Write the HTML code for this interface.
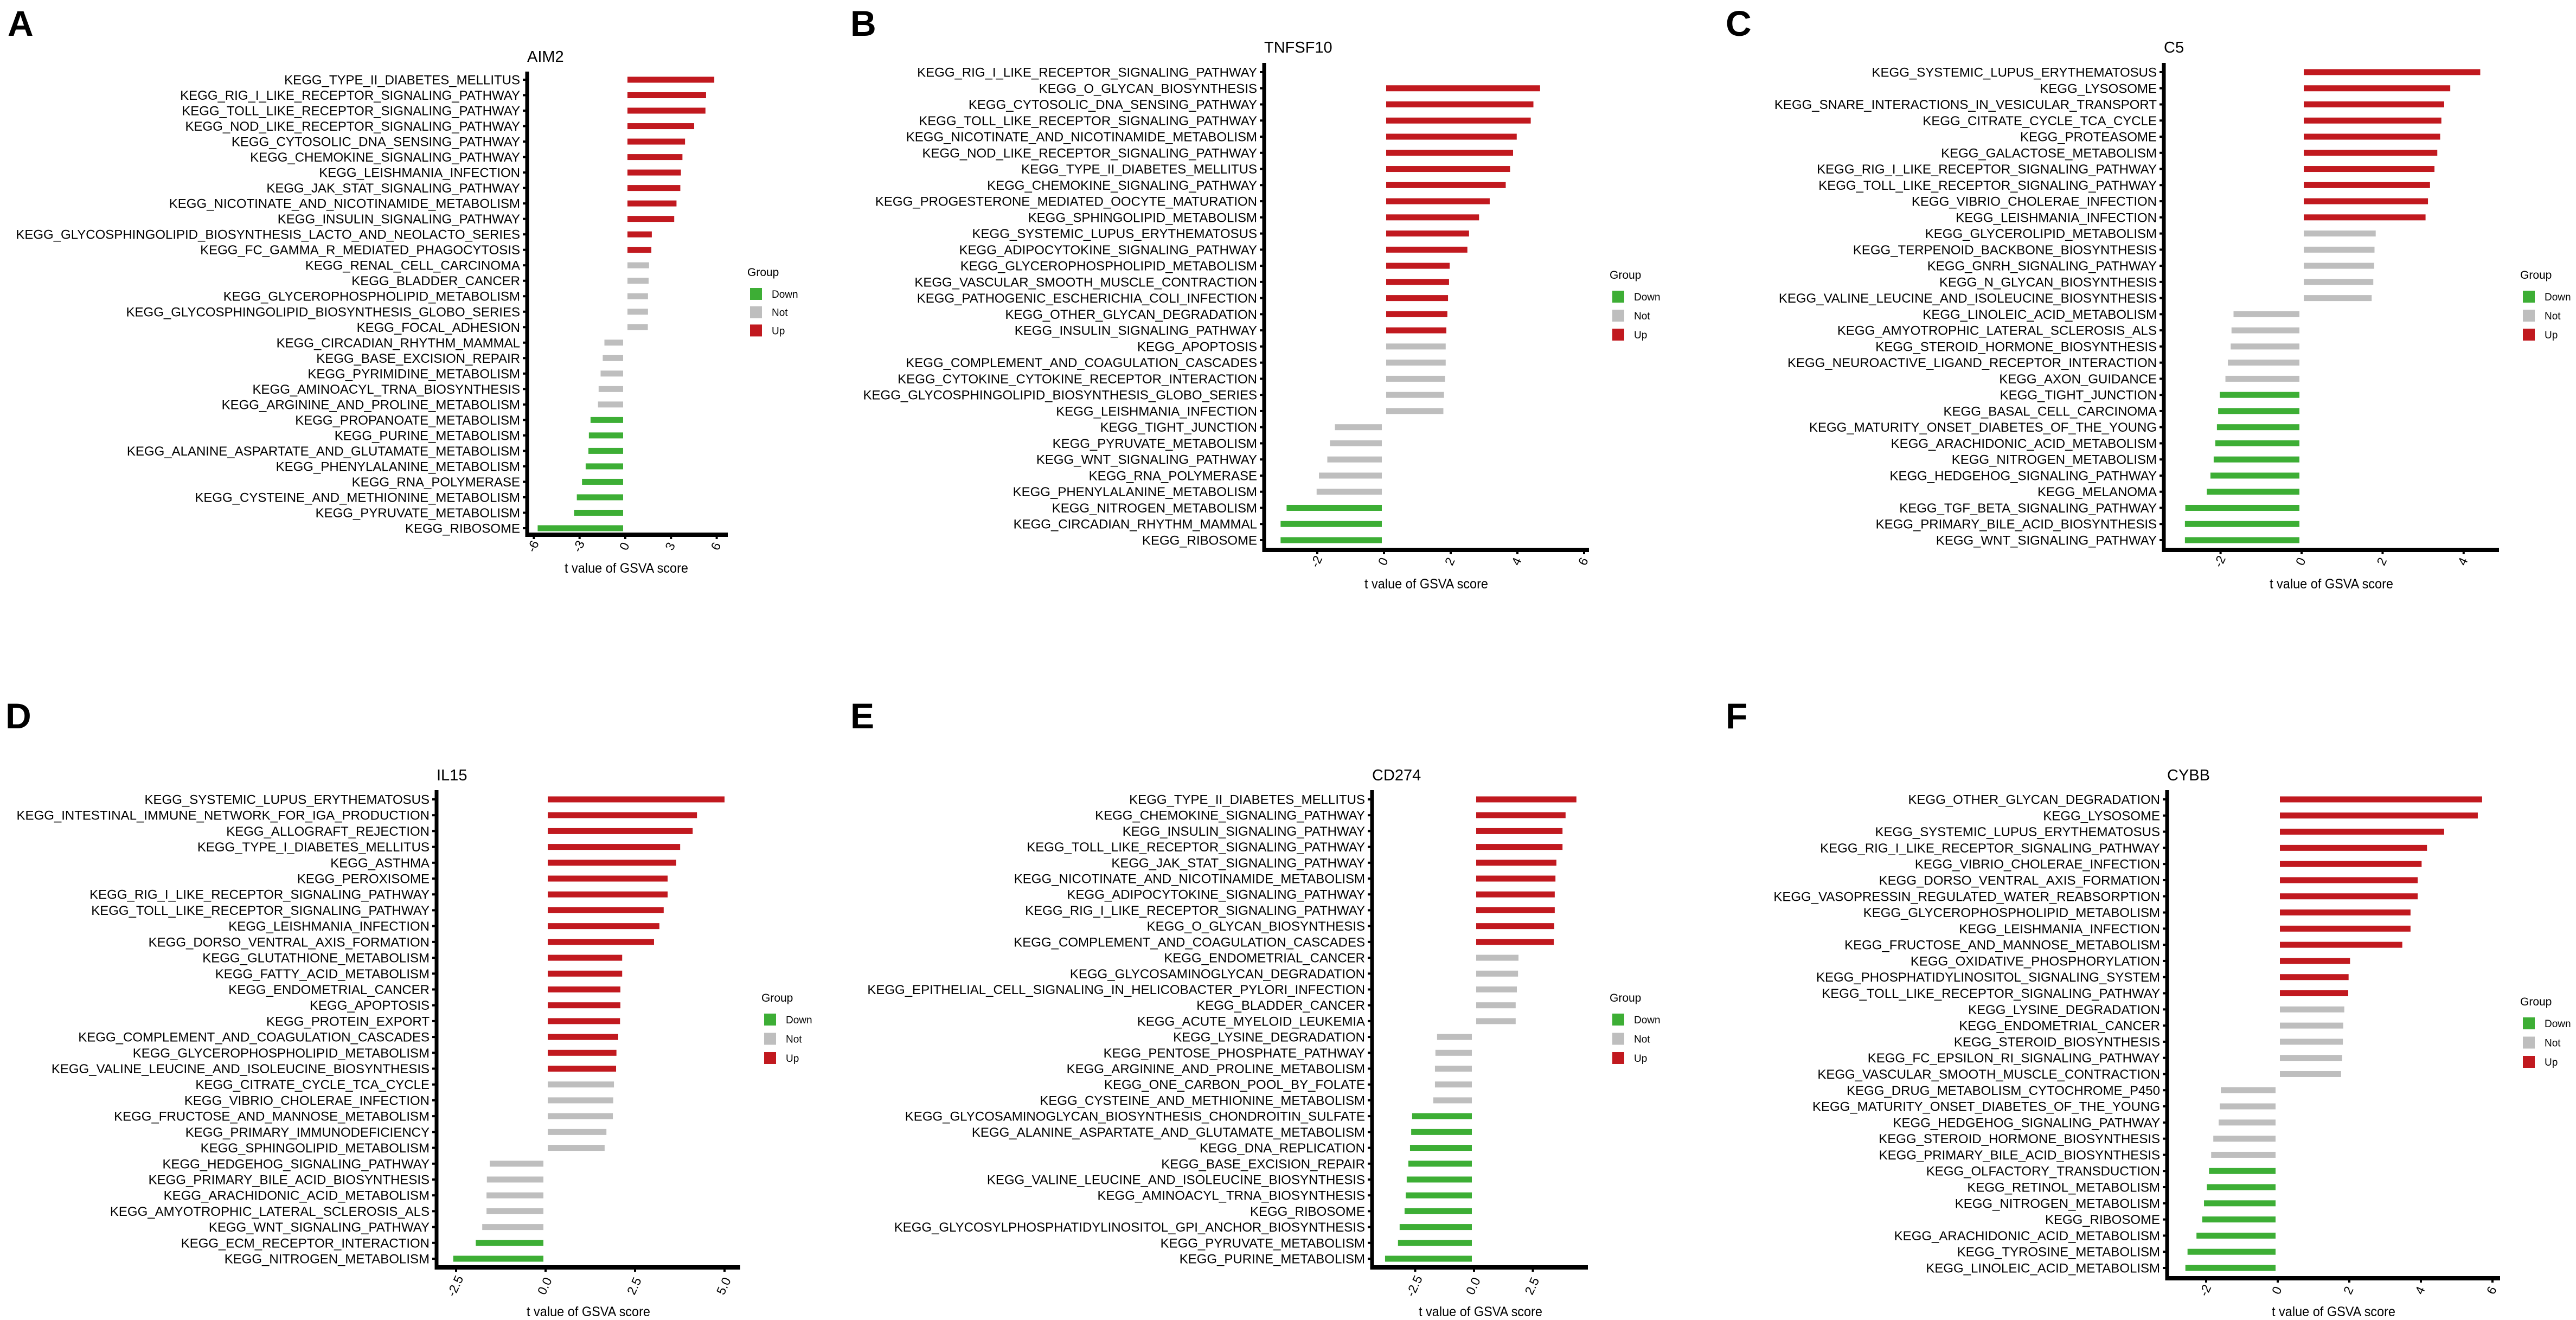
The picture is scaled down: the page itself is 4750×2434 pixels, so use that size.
<!DOCTYPE html>
<html><head><meta charset="utf-8"><style>
html,body{margin:0;padding:0;background:#fff;}
svg{display:block;font-family:"Liberation Sans",Arial,sans-serif;}
</style></head><body>
<svg id="fig" width="4750" height="2434" viewBox="0 0 4750 2434" xmlns="http://www.w3.org/2000/svg"></svg>
<script>
// ---------- Panel A (AIM2) ----------
const aLabels=["KEGG_TYPE_II_DIABETES_MELLITUS","KEGG_RIG_I_LIKE_RECEPTOR_SIGNALING_PATHWAY","KEGG_TOLL_LIKE_RECEPTOR_SIGNALING_PATHWAY","KEGG_NOD_LIKE_RECEPTOR_SIGNALING_PATHWAY","KEGG_CYTOSOLIC_DNA_SENSING_PATHWAY","KEGG_CHEMOKINE_SIGNALING_PATHWAY","KEGG_LEISHMANIA_INFECTION","KEGG_JAK_STAT_SIGNALING_PATHWAY","KEGG_NICOTINATE_AND_NICOTINAMIDE_METABOLISM","KEGG_INSULIN_SIGNALING_PATHWAY","KEGG_GLYCOSPHINGOLIPID_BIOSYNTHESIS_LACTO_AND_NEOLACTO_SERIES","KEGG_FC_GAMMA_R_MEDIATED_PHAGOCYTOSIS","KEGG_RENAL_CELL_CARCINOMA","KEGG_BLADDER_CANCER","KEGG_GLYCEROPHOSPHOLIPID_METABOLISM","KEGG_GLYCOSPHINGOLIPID_BIOSYNTHESIS_GLOBO_SERIES","KEGG_FOCAL_ADHESION","KEGG_CIRCADIAN_RHYTHM_MAMMAL","KEGG_BASE_EXCISION_REPAIR","KEGG_PYRIMIDINE_METABOLISM","KEGG_AMINOACYL_TRNA_BIOSYNTHESIS","KEGG_ARGININE_AND_PROLINE_METABOLISM","KEGG_PROPANOATE_METABOLISM","KEGG_PURINE_METABOLISM","KEGG_ALANINE_ASPARTATE_AND_GLUTAMATE_METABOLISM","KEGG_PHENYLALANINE_METABOLISM","KEGG_RNA_POLYMERASE","KEGG_CYSTEINE_AND_METHIONINE_METABOLISM","KEGG_PYRUVATE_METABOLISM","KEGG_RIBOSOME"];
const aValues=[5.84,5.30,5.26,4.52,3.92,3.75,3.65,3.61,3.36,3.21,1.74,1.71,1.56,1.53,1.49,1.49,1.48,-1.37,-1.48,-1.62,-1.75,-1.79,-2.28,-2.39,-2.42,-2.60,-2.84,-3.18,-3.36,-5.75];
const aGroups=["Up","Up","Up","Up","Up","Up","Up","Up","Up","Up","Up","Up","Not","Not","Not","Not","Not","Not","Not","Not","Not","Not","Down","Down","Down","Down","Down","Down","Down","Down"];
const aTicks=[-6,-3,0,3,6];
const aTickLabels=["-6","-3","0","3","6"];

// ---------- Panel B (TNFSF10) ----------
const bLabels=["KEGG_RIG_I_LIKE_RECEPTOR_SIGNALING_PATHWAY","KEGG_O_GLYCAN_BIOSYNTHESIS","KEGG_CYTOSOLIC_DNA_SENSING_PATHWAY","KEGG_TOLL_LIKE_RECEPTOR_SIGNALING_PATHWAY","KEGG_NICOTINATE_AND_NICOTINAMIDE_METABOLISM","KEGG_NOD_LIKE_RECEPTOR_SIGNALING_PATHWAY","KEGG_TYPE_II_DIABETES_MELLITUS","KEGG_CHEMOKINE_SIGNALING_PATHWAY","KEGG_PROGESTERONE_MEDIATED_OOCYTE_MATURATION","KEGG_SPHINGOLIPID_METABOLISM","KEGG_SYSTEMIC_LUPUS_ERYTHEMATOSUS","KEGG_ADIPOCYTOKINE_SIGNALING_PATHWAY","KEGG_GLYCEROPHOSPHOLIPID_METABOLISM","KEGG_VASCULAR_SMOOTH_MUSCLE_CONTRACTION","KEGG_PATHOGENIC_ESCHERICHIA_COLI_INFECTION","KEGG_OTHER_GLYCAN_DEGRADATION","KEGG_INSULIN_SIGNALING_PATHWAY","KEGG_APOPTOSIS","KEGG_COMPLEMENT_AND_COAGULATION_CASCADES","KEGG_CYTOKINE_CYTOKINE_RECEPTOR_INTERACTION","KEGG_GLYCOSPHINGOLIPID_BIOSYNTHESIS_GLOBO_SERIES","KEGG_LEISHMANIA_INFECTION","KEGG_TIGHT_JUNCTION","KEGG_PYRUVATE_METABOLISM","KEGG_WNT_SIGNALING_PATHWAY","KEGG_RNA_POLYMERASE","KEGG_PHENYLALANINE_METABOLISM","KEGG_NITROGEN_METABOLISM","KEGG_CIRCADIAN_RHYTHM_MAMMAL","KEGG_RIBOSOME"];
const bValues=[0,4.68,4.48,4.40,3.98,3.87,3.78,3.65,3.17,2.85,2.55,2.50,1.97,1.95,1.92,1.90,1.87,1.85,1.85,1.83,1.80,1.78,-1.47,-1.62,-1.70,-1.95,-2.02,-2.92,-3.10,-3.10];
const bGroups=["Up","Up","Up","Up","Up","Up","Up","Up","Up","Up","Up","Up","Up","Up","Up","Up","Up","Not","Not","Not","Not","Not","Not","Not","Not","Not","Not","Down","Down","Down"];
const bTicks=[-2,0,2,4,6];
const bTickLabels=["-2","0","2","4","6"];

// ---------- Panel C (C5) ----------
const cLabels=["KEGG_SYSTEMIC_LUPUS_ERYTHEMATOSUS","KEGG_LYSOSOME","KEGG_SNARE_INTERACTIONS_IN_VESICULAR_TRANSPORT","KEGG_CITRATE_CYCLE_TCA_CYCLE","KEGG_PROTEASOME","KEGG_GALACTOSE_METABOLISM","KEGG_RIG_I_LIKE_RECEPTOR_SIGNALING_PATHWAY","KEGG_TOLL_LIKE_RECEPTOR_SIGNALING_PATHWAY","KEGG_VIBRIO_CHOLERAE_INFECTION","KEGG_LEISHMANIA_INFECTION","KEGG_GLYCEROLIPID_METABOLISM","KEGG_TERPENOID_BACKBONE_BIOSYNTHESIS","KEGG_GNRH_SIGNALING_PATHWAY","KEGG_N_GLYCAN_BIOSYNTHESIS","KEGG_VALINE_LEUCINE_AND_ISOLEUCINE_BIOSYNTHESIS","KEGG_LINOLEIC_ACID_METABOLISM","KEGG_AMYOTROPHIC_LATERAL_SCLEROSIS_ALS","KEGG_STEROID_HORMONE_BIOSYNTHESIS","KEGG_NEUROACTIVE_LIGAND_RECEPTOR_INTERACTION","KEGG_AXON_GUIDANCE","KEGG_TIGHT_JUNCTION","KEGG_BASAL_CELL_CARCINOMA","KEGG_MATURITY_ONSET_DIABETES_OF_THE_YOUNG","KEGG_ARACHIDONIC_ACID_METABOLISM","KEGG_NITROGEN_METABOLISM","KEGG_HEDGEHOG_SIGNALING_PATHWAY","KEGG_MELANOMA","KEGG_TGF_BETA_SIGNALING_PATHWAY","KEGG_PRIMARY_BILE_ACID_BIOSYNTHESIS","KEGG_WNT_SIGNALING_PATHWAY"];
const cValues=[4.41,3.67,3.52,3.45,3.42,3.35,3.28,3.17,3.12,3.06,1.83,1.80,1.79,1.77,1.73,-1.68,-1.73,-1.75,-1.82,-1.88,-2.02,-2.06,-2.09,-2.13,-2.17,-2.25,-2.34,-2.87,-2.88,-2.88];
const cGroups=["Up","Up","Up","Up","Up","Up","Up","Up","Up","Up","Not","Not","Not","Not","Not","Not","Not","Not","Not","Not","Down","Down","Down","Down","Down","Down","Down","Down","Down","Down"];
const cTicks=[-2,0,2,4];
const cTickLabels=["-2","0","2","4"];

// ---------- Panel D (IL15) ----------
const dLabels=["KEGG_SYSTEMIC_LUPUS_ERYTHEMATOSUS","KEGG_INTESTINAL_IMMUNE_NETWORK_FOR_IGA_PRODUCTION","KEGG_ALLOGRAFT_REJECTION","KEGG_TYPE_I_DIABETES_MELLITUS","KEGG_ASTHMA","KEGG_PEROXISOME","KEGG_RIG_I_LIKE_RECEPTOR_SIGNALING_PATHWAY","KEGG_TOLL_LIKE_RECEPTOR_SIGNALING_PATHWAY","KEGG_LEISHMANIA_INFECTION","KEGG_DORSO_VENTRAL_AXIS_FORMATION","KEGG_GLUTATHIONE_METABOLISM","KEGG_FATTY_ACID_METABOLISM","KEGG_ENDOMETRIAL_CANCER","KEGG_APOPTOSIS","KEGG_PROTEIN_EXPORT","KEGG_COMPLEMENT_AND_COAGULATION_CASCADES","KEGG_GLYCEROPHOSPHOLIPID_METABOLISM","KEGG_VALINE_LEUCINE_AND_ISOLEUCINE_BIOSYNTHESIS","KEGG_CITRATE_CYCLE_TCA_CYCLE","KEGG_VIBRIO_CHOLERAE_INFECTION","KEGG_FRUCTOSE_AND_MANNOSE_METABOLISM","KEGG_PRIMARY_IMMUNODEFICIENCY","KEGG_SPHINGOLIPID_METABOLISM","KEGG_HEDGEHOG_SIGNALING_PATHWAY","KEGG_PRIMARY_BILE_ACID_BIOSYNTHESIS","KEGG_ARACHIDONIC_ACID_METABOLISM","KEGG_AMYOTROPHIC_LATERAL_SCLEROSIS_ALS","KEGG_WNT_SIGNALING_PATHWAY","KEGG_ECM_RECEPTOR_INTERACTION","KEGG_NITROGEN_METABOLISM"];
const dValues=[5.00,4.23,4.11,3.76,3.65,3.41,3.41,3.30,3.18,3.03,2.14,2.14,2.09,2.09,2.08,2.03,1.98,1.97,1.91,1.89,1.88,1.70,1.65,-1.56,-1.64,-1.65,-1.65,-1.77,-1.95,-2.58];
const dGroups=["Up","Up","Up","Up","Up","Up","Up","Up","Up","Up","Up","Up","Up","Up","Up","Up","Up","Up","Not","Not","Not","Not","Not","Not","Not","Not","Not","Not","Down","Down"];
const dTicks=[-2.5,0,2.5,5];
const dTickLabels=["-2.5","0.0","2.5","5.0"];

// ---------- Panel E (CD274) ----------
const eLabels=["KEGG_TYPE_II_DIABETES_MELLITUS","KEGG_CHEMOKINE_SIGNALING_PATHWAY","KEGG_INSULIN_SIGNALING_PATHWAY","KEGG_TOLL_LIKE_RECEPTOR_SIGNALING_PATHWAY","KEGG_JAK_STAT_SIGNALING_PATHWAY","KEGG_NICOTINATE_AND_NICOTINAMIDE_METABOLISM","KEGG_ADIPOCYTOKINE_SIGNALING_PATHWAY","KEGG_RIG_I_LIKE_RECEPTOR_SIGNALING_PATHWAY","KEGG_O_GLYCAN_BIOSYNTHESIS","KEGG_COMPLEMENT_AND_COAGULATION_CASCADES","KEGG_ENDOMETRIAL_CANCER","KEGG_GLYCOSAMINOGLYCAN_DEGRADATION","KEGG_EPITHELIAL_CELL_SIGNALING_IN_HELICOBACTER_PYLORI_INFECTION","KEGG_BLADDER_CANCER","KEGG_ACUTE_MYELOID_LEUKEMIA","KEGG_LYSINE_DEGRADATION","KEGG_PENTOSE_PHOSPHATE_PATHWAY","KEGG_ARGININE_AND_PROLINE_METABOLISM","KEGG_ONE_CARBON_POOL_BY_FOLATE","KEGG_CYSTEINE_AND_METHIONINE_METABOLISM","KEGG_GLYCOSAMINOGLYCAN_BIOSYNTHESIS_CHONDROITIN_SULFATE","KEGG_ALANINE_ASPARTATE_AND_GLUTAMATE_METABOLISM","KEGG_DNA_REPLICATION","KEGG_BASE_EXCISION_REPAIR","KEGG_VALINE_LEUCINE_AND_ISOLEUCINE_BIOSYNTHESIS","KEGG_AMINOACYL_TRNA_BIOSYNTHESIS","KEGG_RIBOSOME","KEGG_GLYCOSYLPHOSPHATIDYLINOSITOL_GPI_ANCHOR_BIOSYNTHESIS","KEGG_PYRUVATE_METABOLISM","KEGG_PURINE_METABOLISM"];
const eValues=[4.35,3.89,3.76,3.76,3.50,3.46,3.43,3.43,3.41,3.39,1.89,1.87,1.82,1.77,1.77,-1.57,-1.64,-1.66,-1.66,-1.73,-2.63,-2.67,-2.72,-2.79,-2.86,-2.90,-2.95,-3.16,-3.23,-3.78];
const eGroups=["Up","Up","Up","Up","Up","Up","Up","Up","Up","Up","Not","Not","Not","Not","Not","Not","Not","Not","Not","Not","Down","Down","Down","Down","Down","Down","Down","Down","Down","Down"];
const eTicks=[-2.5,0,2.5];
const eTickLabels=["-2.5","0.0","2.5"];

// ---------- Panel F (CYBB) ----------
const fLabels=["KEGG_OTHER_GLYCAN_DEGRADATION","KEGG_LYSOSOME","KEGG_SYSTEMIC_LUPUS_ERYTHEMATOSUS","KEGG_RIG_I_LIKE_RECEPTOR_SIGNALING_PATHWAY","KEGG_VIBRIO_CHOLERAE_INFECTION","KEGG_DORSO_VENTRAL_AXIS_FORMATION","KEGG_VASOPRESSIN_REGULATED_WATER_REABSORPTION","KEGG_GLYCEROPHOSPHOLIPID_METABOLISM","KEGG_LEISHMANIA_INFECTION","KEGG_FRUCTOSE_AND_MANNOSE_METABOLISM","KEGG_OXIDATIVE_PHOSPHORYLATION","KEGG_PHOSPHATIDYLINOSITOL_SIGNALING_SYSTEM","KEGG_TOLL_LIKE_RECEPTOR_SIGNALING_PATHWAY","KEGG_LYSINE_DEGRADATION","KEGG_ENDOMETRIAL_CANCER","KEGG_STEROID_BIOSYNTHESIS","KEGG_FC_EPSILON_RI_SIGNALING_PATHWAY","KEGG_VASCULAR_SMOOTH_MUSCLE_CONTRACTION","KEGG_DRUG_METABOLISM_CYTOCHROME_P450","KEGG_MATURITY_ONSET_DIABETES_OF_THE_YOUNG","KEGG_HEDGEHOG_SIGNALING_PATHWAY","KEGG_STEROID_HORMONE_BIOSYNTHESIS","KEGG_PRIMARY_BILE_ACID_BIOSYNTHESIS","KEGG_OLFACTORY_TRANSDUCTION","KEGG_RETINOL_METABOLISM","KEGG_NITROGEN_METABOLISM","KEGG_RIBOSOME","KEGG_ARACHIDONIC_ACID_METABOLISM","KEGG_TYROSINE_METABOLISM","KEGG_LINOLEIC_ACID_METABOLISM"];
const fValues=[5.71,5.59,4.65,4.17,4.02,3.91,3.91,3.71,3.71,3.48,2.02,1.98,1.97,1.86,1.83,1.82,1.80,1.77,-1.59,-1.62,-1.65,-1.80,-1.86,-1.92,-1.98,-2.06,-2.11,-2.27,-2.52,-2.58];
const fGroups=["Up","Up","Up","Up","Up","Up","Up","Up","Up","Up","Up","Up","Up","Not","Not","Not","Not","Not","Not","Not","Not","Not","Not","Down","Down","Down","Down","Down","Down","Down"];
const fTicks=[-2,0,2,4,6];
const fTickLabels=["-2","0","2","4","6"];

const COLORS={Up:"#C1191F",Not:"#BEBEBE",Down:"#3DAE35"};
const NS="http://www.w3.org/2000/svg";
const svg=document.getElementById("fig");
function mk(tag,attrs,parent,text){const e=document.createElementNS(NS,tag);for(const k in attrs)e.setAttribute(k,attrs[k]);if(text!==undefined)e.textContent=text;(parent||svg).appendChild(e);return e;}

function panel(p){
  const g=mk("g",{});
  
  
  const xs=v=>p.zero+v*p.unit;
  const ys=i=>p.rowTop+i*(p.rowBottom-p.rowTop)/(p.labels.length-1);
  const L=mk("text",{x:p.letterX,y:p.letterY,"font-size":66,"font-weight":"bold"},g,p.letter);
  
  
  const T=mk("text",{x:p.axisX,y:p.titleY,"font-size":29},g,p.title);
  
  
  // bars
  p.values.forEach((v,i)=>{
    const x0=v>=0?xs(0)+4:xs(v);
    const w=Math.max(0,Math.abs(xs(v)-xs(0))-4);
    const r=mk("rect",{x:x0,y:ys(i)-5.5,width:w,height:11,fill:COLORS[p.groups[i]]},g);
    
    
    const t=mk("text",{x:p.axisX-13,y:ys(i)+8.5,"font-size":24,"text-anchor":"end"},g,p.labels[i]);
    
    
    mk("line",{x1:p.axisX-8,x2:p.axisX,y1:ys(i),y2:ys(i),stroke:"#000","stroke-width":4},g);
  });
  // axes
  const ya=mk("line",{x1:p.axisX,x2:p.axisX,y1:p.axisTop,y2:p.axisBottom+4,stroke:"#000","stroke-width":7},g);
  
  
  const xa=mk("line",{x1:p.axisX-3,x2:p.axisRight,y1:p.axisBottom,y2:p.axisBottom,stroke:"#000","stroke-width":8},g);
  
  
  p.ticks.forEach((v,i)=>{
    mk("line",{x1:xs(v),x2:xs(v),y1:p.axisBottom,y2:p.axisBottom+8,stroke:"#000","stroke-width":4},g);
    const tl=mk("text",{x:xs(v),y:p.tickY,"font-size":23,"text-anchor":"middle","dominant-baseline":"middle",transform:`rotate(-65 ${xs(v)} ${p.tickY})`},g,p.tickLabels[i]);
    
    
  });
  const xl=mk("text",{x:p.xlabelX,y:p.xlabelY,"font-size":25,"text-anchor":"middle",textLength:228,lengthAdjust:"spacingAndGlyphs"},g,"t value of GSVA score");
  
  
  // legend
  const lg=mk("g",{},g);
  
  
  mk("text",{x:p.legX-5,y:p.legTop-22,"font-size":21},lg,"Group");
  ["Down","Not","Up"].forEach((k,i)=>{
    const y=p.legTop+i*p.legStep;
    const s=mk("rect",{x:p.legX,y:y,width:22,height:22,fill:COLORS[k]},lg);
    
    
    mk("text",{x:p.legX+40,y:y+18,"font-size":19},lg,k);
  });
}

panel({letter:"A",letterX:14,letterY:66,title:"AIM2",titleY:114,labels:aLabels,values:aValues,groups:aGroups,ticks:aTicks,tickLabels:aTickLabels,
  zero:1153,unit:28.1,axisX:972,axisTop:132,axisBottom:986,axisRight:1342,rowTop:147,rowBottom:974,tickY:1008,xlabelX:1155,xlabelY:1056,legX:1383,legTop:531,legStep:33.7});
panel({letter:"B",letterX:1568,letterY:66,title:"TNFSF10",titleY:97,labels:bLabels,values:bValues,groups:bGroups,ticks:bTicks,tickLabels:bTickLabels,
  zero:2552,unit:61.5,axisX:2331,axisTop:116,axisBottom:1014,axisRight:2930,rowTop:133,rowBottom:996,tickY:1036,xlabelX:2630,xlabelY:1085,legX:2973,legTop:536,legStep:35});
panel({letter:"C",letterX:3182,letterY:66,title:"C5",titleY:97,labels:cLabels,values:cValues,groups:cGroups,ticks:cTicks,tickLabels:cTickLabels,
  zero:4244,unit:74.7,axisX:3990,axisTop:116,axisBottom:1014,axisRight:4608,rowTop:133,rowBottom:996,tickY:1036,xlabelX:4299,xlabelY:1085,legX:4652,legTop:536,legStep:35});
panel({letter:"D",letterX:10,letterY:1343,title:"IL15",titleY:1439,labels:dLabels,values:dValues,groups:dGroups,ticks:dTicks,tickLabels:dTickLabels,
  zero:1006,unit:66,axisX:805,axisTop:1457,axisBottom:2337,axisRight:1365,rowTop:1474,rowBottom:2321,tickY:2372,xlabelX:1085,xlabelY:2427,legX:1409,legTop:1869,legStep:35.5});
panel({letter:"E",letterX:1568,letterY:1343,title:"CD274",titleY:1439,labels:eLabels,values:eValues,groups:eGroups,ticks:eTicks,tickLabels:eTickLabels,
  zero:2718,unit:43.4,axisX:2530,axisTop:1457,axisBottom:2337,axisRight:2928,rowTop:1474,rowBottom:2321,tickY:2372,xlabelX:2730,xlabelY:2427,legX:2973,legTop:1869,legStep:35.5});
panel({letter:"F",letterX:3182,letterY:1343,title:"CYBB",titleY:1439,labels:fLabels,values:fValues,groups:fGroups,ticks:fTicks,tickLabels:fTickLabels,
  zero:4200,unit:66,axisX:3996,axisTop:1457,axisBottom:2357,axisRight:4610,rowTop:1474,rowBottom:2338,tickY:2380,xlabelX:4303,xlabelY:2427,legX:4652,legTop:1876,legStep:35.5});
</script>
</body></html>
